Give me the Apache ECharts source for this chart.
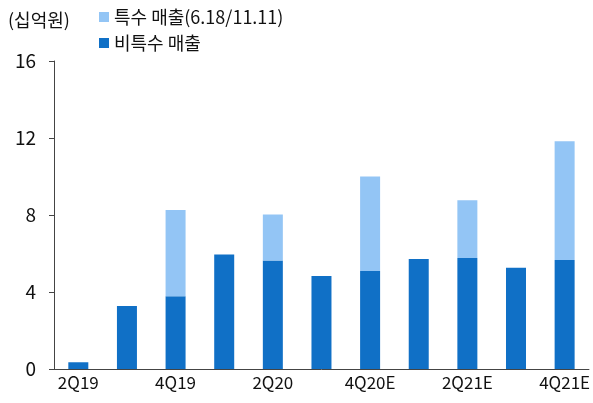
<!DOCTYPE html>
<html>
<head>
<meta charset="utf-8">
<script src="https://cdn.jsdelivr.net/npm/echarts@6/dist/echarts.min.js"></script>
<style>
  html, body { margin: 0; padding: 0; background: #fff; }
  #chart { width: 593px; height: 403px; }
</style>
</head>
<body>
<div id="chart"></div>
<script>
  var categories = ['2Q19', '3Q19', '4Q19', '1Q20', '2Q20', '3Q20', '4Q20E', '1Q21E', '2Q21E', '3Q21E', '4Q21E'];
  var normalSales = [0.35, 3.27, 3.78, 5.95, 5.63, 4.83, 5.09, 5.71, 5.77, 5.26, 5.66];
  var specialSales = [0, 0, 4.48, 0, 2.39, 0, 4.91, 0, 2.99, 0, 6.17];
  var yTicks = [0, 4, 8, 12, 16];

  var font = '"Noto Sans CJK KR", "Noto Sans", sans-serif';
  var chartDom = document.getElementById('chart');
  var myChart = echarts.init(chartDom);

  var option = {
    animation: false,
    textStyle: { fontFamily: font },
    title: {
      text: '(십억원)',
      left: 3,
      top: 6,
      textStyle: { fontFamily: font, fontSize: 18, fontWeight: 'normal', color: '#111' }
    },
    legend: {
      orient: 'vertical',
      left: 94,
      top: 3,
      itemWidth: 10,
      itemHeight: 10,
      itemGap: 8,
      icon: 'rect',
      textStyle: { fontFamily: font, fontSize: 18, color: '#111' },
      data: ['특수 매출(6.18/11.11)', '비특수 매출']
    },
    grid: { left: 54, right: 2, top: 61, bottom: 34 },
    xAxis: {
      type: 'category',
      data: categories,
      axisLine: { lineStyle: { color: '#444', width: 1 } },
      axisTick: { interval: 0, length: 5, lineStyle: { color: '#444' } },
      axisLabel: { interval: 1, fontSize: 17, color: '#111', margin: 5 }
    },
    yAxis: {
      type: 'value',
      min: yTicks[0],
      max: yTicks[yTicks.length - 1],
      interval: 4,
      splitLine: { show: false },
      axisLine: { show: true, lineStyle: { color: '#444', width: 1 } },
      axisTick: { show: true, length: 5, lineStyle: { color: '#444' } },
      axisLabel: { fontSize: 19, color: '#111', margin: 18 }
    },
    series: [
      {
        name: '비특수 매출',
        type: 'bar',
        stack: 'sales',
        barWidth: 20,
        itemStyle: { color: '#1070C6' },
        data: normalSales
      },
      {
        name: '특수 매출(6.18/11.11)',
        type: 'bar',
        stack: 'sales',
        barWidth: 20,
        itemStyle: { color: '#93C5F5' },
        data: specialSales
      }
    ]
  };

  myChart.setOption(option);
</script>
</body>
</html>
